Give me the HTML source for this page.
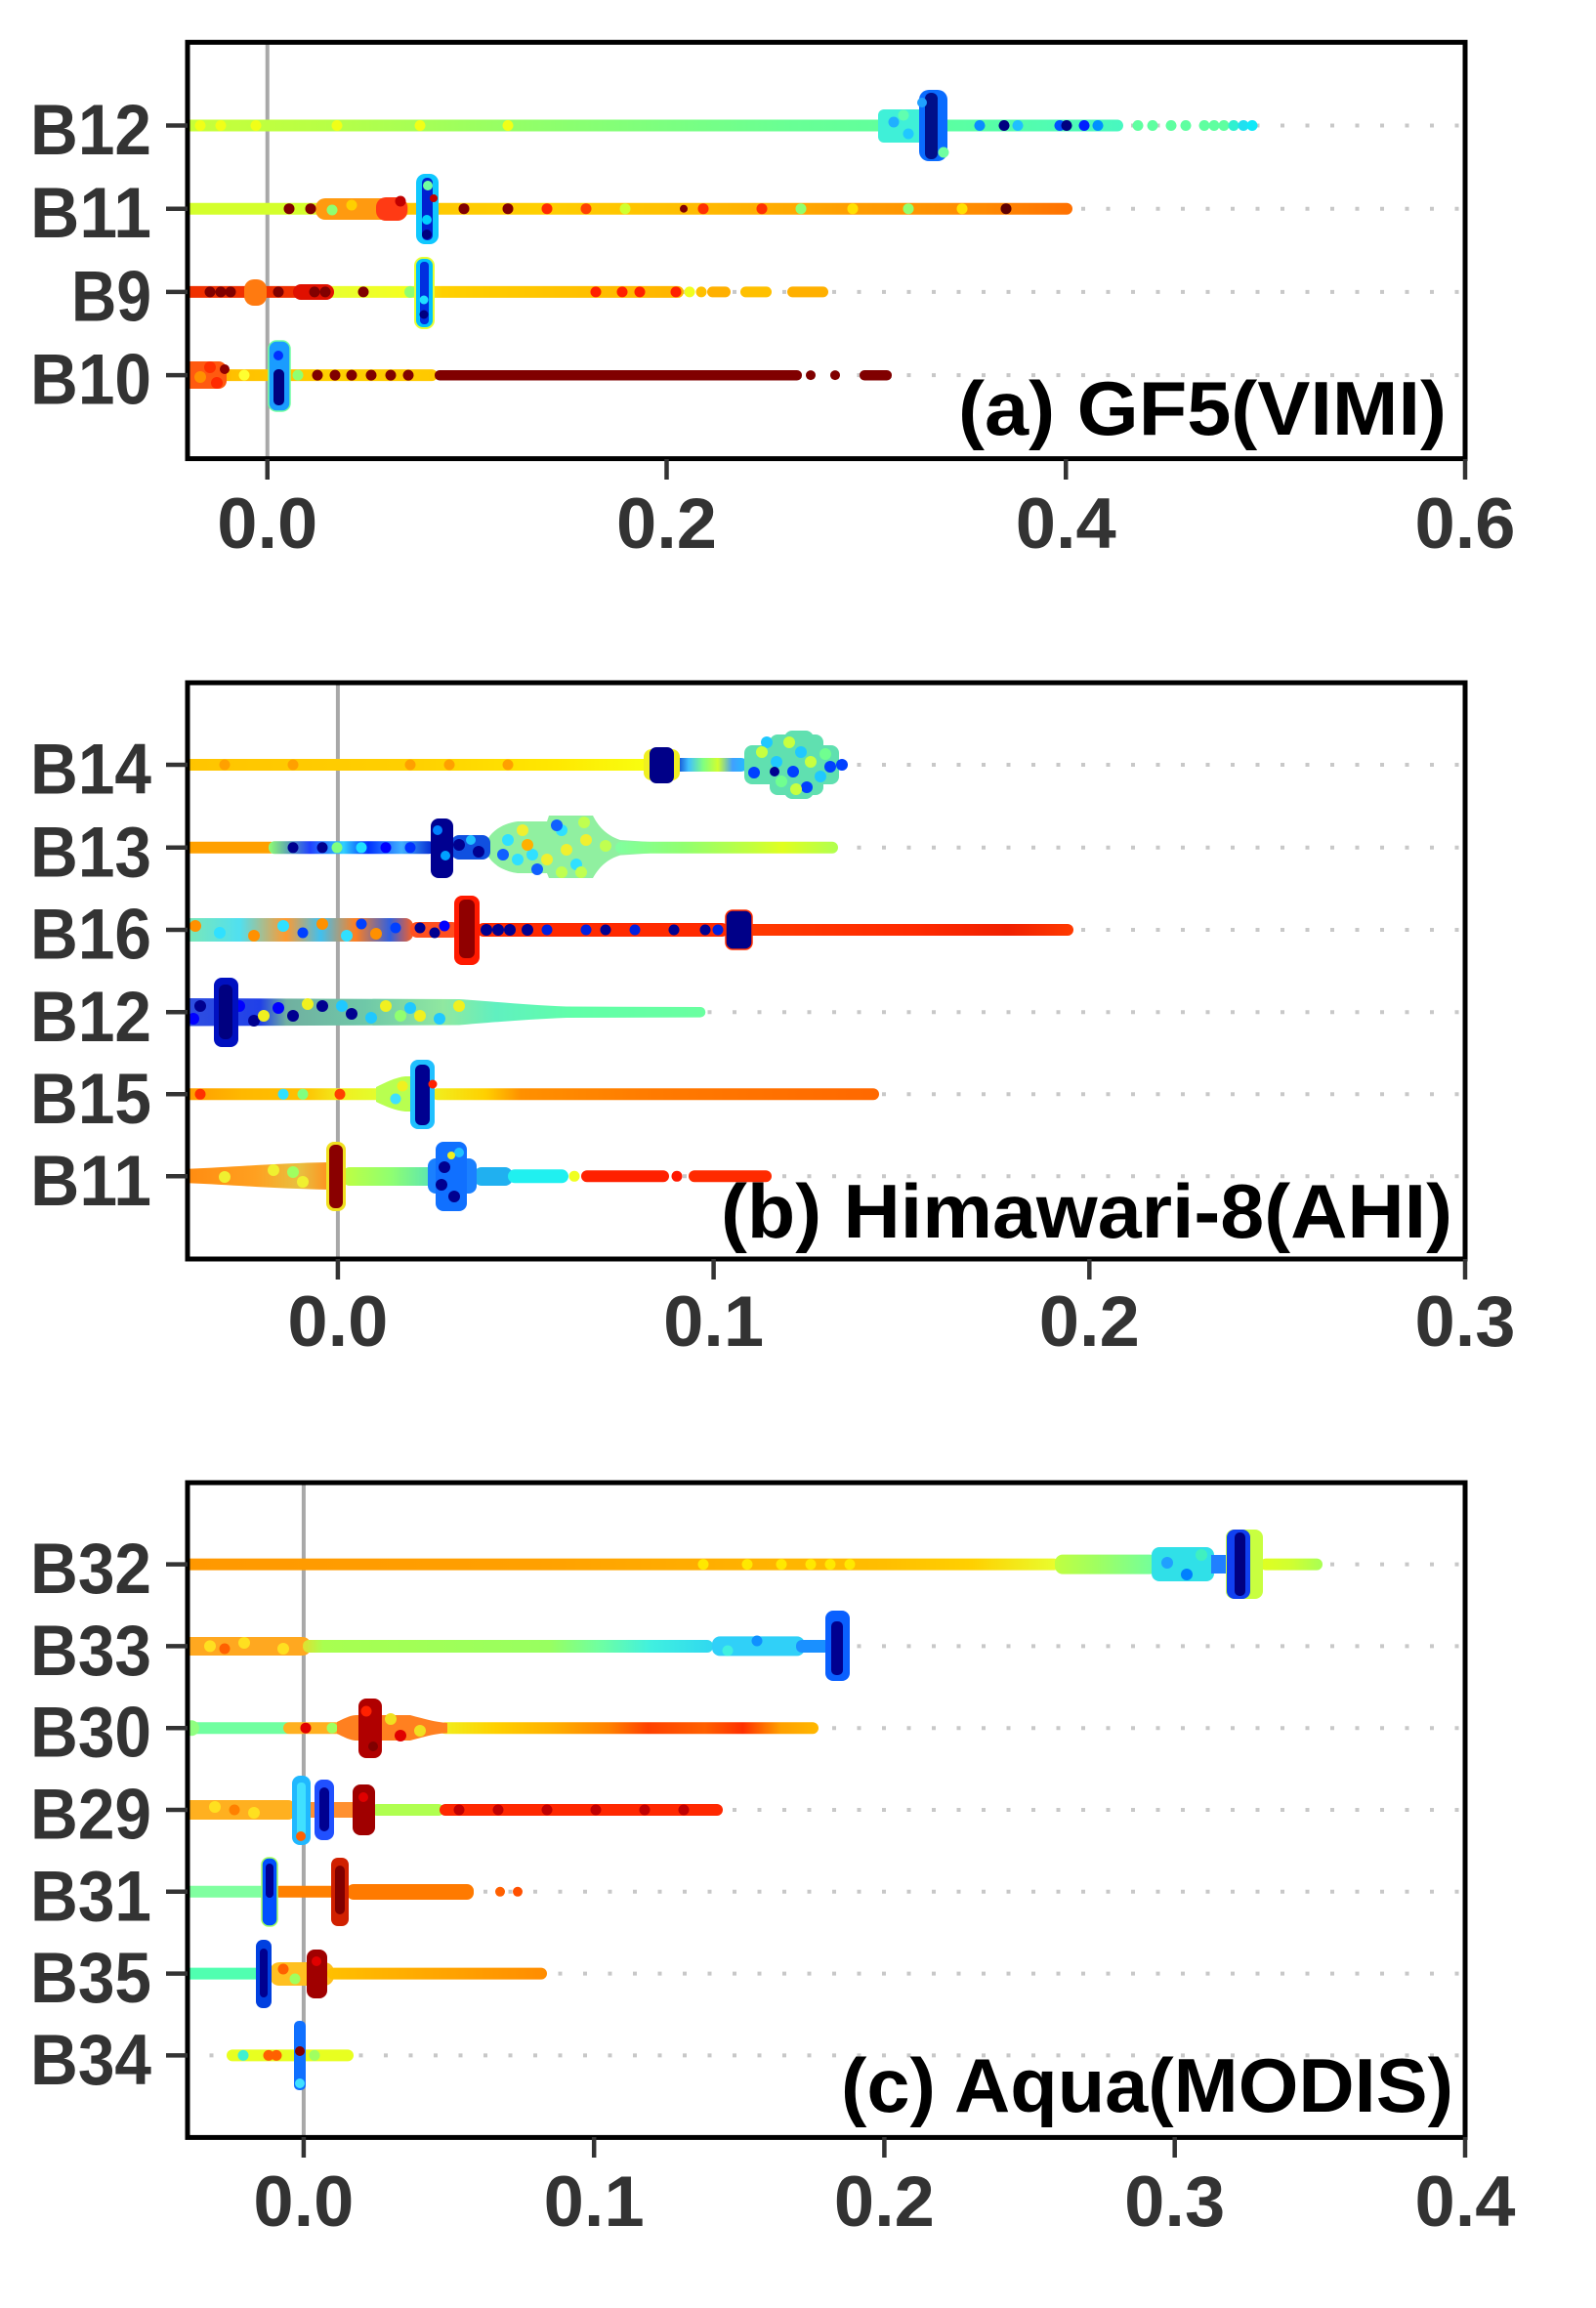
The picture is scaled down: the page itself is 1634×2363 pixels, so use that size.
<!DOCTYPE html>
<html><head><meta charset="utf-8">
<style>
html,body{margin:0;padding:0;background:#fff;}
svg{display:block;}
text{font-family:"Liberation Sans",Arial,sans-serif;font-weight:bold;}
</style></head>
<body>
<svg width="1634" height="2363" viewBox="0 0 1634 2363" xmlns="http://www.w3.org/2000/svg">
<defs>
<clipPath id="cA"><rect x="192" y="43" width="1308" height="427"/></clipPath>
<clipPath id="cB"><rect x="192" y="699" width="1308" height="590"/></clipPath>
<clipPath id="cC"><rect x="192" y="1518" width="1308" height="670"/></clipPath>
<linearGradient id="gA12"><stop offset="0" stop-color="#c8ff38"/><stop offset="0.15" stop-color="#b8ff45"/><stop offset="0.4" stop-color="#8cff6e"/><stop offset="0.65" stop-color="#68ff95"/><stop offset="0.85" stop-color="#58ffa5"/><stop offset="1" stop-color="#48f8c0"/></linearGradient>
<linearGradient id="gA11"><stop offset="0" stop-color="#d4ff2c"/><stop offset="0.14" stop-color="#d4ff2c"/><stop offset="0.2" stop-color="#ffc400"/><stop offset="0.4" stop-color="#ffd000"/><stop offset="0.55" stop-color="#ffc000"/><stop offset="0.75" stop-color="#ff9e00"/><stop offset="0.9" stop-color="#ff8a00"/><stop offset="1" stop-color="#ff7000"/></linearGradient>
<linearGradient id="gA9"><stop offset="0" stop-color="#f03000"/><stop offset="0.27" stop-color="#f03000"/><stop offset="0.3" stop-color="#e8ff30"/><stop offset="0.45" stop-color="#f4ff20"/><stop offset="0.52" stop-color="#ffd000"/><stop offset="0.8" stop-color="#ffc000"/><stop offset="1" stop-color="#ffb400"/></linearGradient>
<linearGradient id="gA10"><stop offset="0" stop-color="#ff8000"/><stop offset="0.2" stop-color="#ffc000"/><stop offset="0.6" stop-color="#ffd000"/><stop offset="1" stop-color="#ffc800"/></linearGradient>
<linearGradient id="gB14"><stop offset="0" stop-color="#ffc400"/><stop offset="0.5" stop-color="#ffd000"/><stop offset="0.8" stop-color="#ffe800"/><stop offset="1" stop-color="#f8ff10"/></linearGradient>
<linearGradient id="gB14b"><stop offset="0" stop-color="#0020c0"/><stop offset="0.2" stop-color="#40c0ff"/><stop offset="0.4" stop-color="#80ff80"/><stop offset="0.6" stop-color="#d0ff30"/><stop offset="0.8" stop-color="#40a0ff"/><stop offset="1" stop-color="#20c0ff"/></linearGradient>
<linearGradient id="gB13a"><stop offset="0" stop-color="#90ff70"/><stop offset="0.25" stop-color="#2040ff"/><stop offset="0.45" stop-color="#30d0ff"/><stop offset="0.6" stop-color="#0030ff"/><stop offset="0.8" stop-color="#40b0ff"/><stop offset="1" stop-color="#0020d0"/></linearGradient>
<linearGradient id="gB13b"><stop offset="0" stop-color="#80ffa0"/><stop offset="0.3" stop-color="#90ff70"/><stop offset="0.6" stop-color="#c0ff40"/><stop offset="0.75" stop-color="#e0ff20"/><stop offset="1" stop-color="#b0ff50"/></linearGradient>
<linearGradient id="gB16a"><stop offset="0" stop-color="#80e8b0"/><stop offset="0.25" stop-color="#50e0f0"/><stop offset="0.45" stop-color="#ff9a30"/><stop offset="0.6" stop-color="#40c0f0"/><stop offset="0.75" stop-color="#ff8020"/><stop offset="0.9" stop-color="#3060e0"/><stop offset="1" stop-color="#ff6020"/></linearGradient>
<linearGradient id="gB16b"><stop offset="0" stop-color="#ff3a00"/><stop offset="0.5" stop-color="#ff2a00"/><stop offset="0.8" stop-color="#f02000"/><stop offset="1" stop-color="#ff3a00"/></linearGradient>
<linearGradient id="gB12"><stop offset="0" stop-color="#3050e0"/><stop offset="0.15" stop-color="#2040e8"/><stop offset="0.2" stop-color="#70b0a0"/><stop offset="0.35" stop-color="#6fc8a8"/><stop offset="0.5" stop-color="#90e8a0"/><stop offset="0.6" stop-color="#60f0c0"/><stop offset="0.75" stop-color="#60ffa8"/><stop offset="1" stop-color="#6affa0"/></linearGradient>
<linearGradient id="gB15a"><stop offset="0" stop-color="#ff9a00"/><stop offset="0.3" stop-color="#ffb800"/><stop offset="0.6" stop-color="#ffc000"/><stop offset="0.8" stop-color="#f0f020"/><stop offset="1" stop-color="#e0ff30"/></linearGradient>
<linearGradient id="gB15b"><stop offset="0" stop-color="#f0f020"/><stop offset="0.12" stop-color="#ffd000"/><stop offset="0.2" stop-color="#ff9000"/><stop offset="0.5" stop-color="#ff7a00"/><stop offset="1" stop-color="#ff6800"/></linearGradient>
<linearGradient id="gB11a"><stop offset="0" stop-color="#ff8a10"/><stop offset="0.5" stop-color="#ffa020"/><stop offset="0.8" stop-color="#e8c040"/><stop offset="1" stop-color="#ff9020"/></linearGradient>
<linearGradient id="gB11b"><stop offset="0" stop-color="#c0ff40"/><stop offset="0.5" stop-color="#90ff70"/><stop offset="1" stop-color="#50e0c0"/></linearGradient>
<linearGradient id="gC32a"><stop offset="0" stop-color="#ff9800"/><stop offset="0.4" stop-color="#ffa000"/><stop offset="0.6" stop-color="#ffae00"/><stop offset="0.8" stop-color="#ffbe00"/><stop offset="0.9" stop-color="#ffd000"/><stop offset="1" stop-color="#e8ff30"/></linearGradient>
<linearGradient id="gC32b"><stop offset="0" stop-color="#c0ff40"/><stop offset="0.4" stop-color="#a0ff60"/><stop offset="1" stop-color="#70ffa0"/></linearGradient>
<linearGradient id="gC32c"><stop offset="0" stop-color="#e0ff20"/><stop offset="0.5" stop-color="#d0ff30"/><stop offset="1" stop-color="#a8ff55"/></linearGradient>
<linearGradient id="gC33a"><stop offset="0" stop-color="#e0e030"/><stop offset="0.05" stop-color="#a8ff50"/><stop offset="0.6" stop-color="#98ff60"/><stop offset="0.72" stop-color="#70ffa0"/><stop offset="0.85" stop-color="#40f0e0"/><stop offset="1" stop-color="#30d8f0"/></linearGradient>
<linearGradient id="gC30"><stop offset="0" stop-color="#f0f020"/><stop offset="0.15" stop-color="#ffd000"/><stop offset="0.3" stop-color="#ffb000"/><stop offset="0.45" stop-color="#ff8000"/><stop offset="0.55" stop-color="#ff4000"/><stop offset="0.7" stop-color="#ff6000"/><stop offset="0.8" stop-color="#ff3000"/><stop offset="0.9" stop-color="#ffa000"/><stop offset="1" stop-color="#ffb800"/></linearGradient>
<linearGradient id="gC35"><stop offset="0" stop-color="#ffc000"/><stop offset="0.3" stop-color="#ffb000"/><stop offset="1" stop-color="#ff8c00"/></linearGradient>
</defs>
<rect width="1634" height="2363" fill="#fff"/>

<!-- ================= PANEL A ================= -->
<g stroke="#c8c8c8" stroke-width="4" stroke-dasharray="4 21.5">
<line x1="189" x2="1497" y1="128.5" y2="128.5"/>
<line x1="189" x2="1497" y1="213.7" y2="213.7"/>
<line x1="189" x2="1497" y1="298.9" y2="298.9"/>
<line x1="189" x2="1497" y1="384.1" y2="384.1"/>
</g>
<line x1="273.75" x2="273.75" y1="43" y2="470" stroke="#a8a8a8" stroke-width="4"/>
<g clip-path="url(#cA)">
<!-- B12 -->
<rect x="186" y="122.5" width="964" height="12" rx="6" fill="url(#gA12)"/>
<g fill="#f0ff18"><circle cx="205" cy="128.5" r="5.5"/><circle cx="226" cy="128.5" r="5.5"/><circle cx="262" cy="128.5" r="5.5"/><circle cx="345" cy="128.5" r="5.5"/><circle cx="430" cy="128.5" r="5.5"/><circle cx="520" cy="128.5" r="5.5"/></g>
<rect x="899" y="112" width="48" height="34" rx="6" fill="#3ff0d8"/>
<circle cx="915" cy="125" r="5.5" fill="#20b0ff"/><circle cx="930" cy="137" r="5.5" fill="#20c8ff"/><circle cx="925" cy="118" r="5.5" fill="#60ffb0"/>
<rect x="941" y="92" width="29" height="73" rx="10" fill="#0a6cff"/>
<rect x="947" y="95" width="13" height="68" rx="6" fill="#00108a"/>
<circle cx="966" cy="156" r="5.5" fill="#70ffa0"/><circle cx="944" cy="105" r="5" fill="#20a0ff"/>
<g><circle cx="1003" cy="128.5" r="5.5" fill="#0a8cff"/><circle cx="1028" cy="128.5" r="5.5" fill="#000080"/><circle cx="1042" cy="128.5" r="5.5" fill="#20c0ff"/><circle cx="1085" cy="128.5" r="5.5" fill="#0050ff"/><circle cx="1092" cy="128.5" r="5.5" fill="#000080"/><circle cx="1110" cy="128.5" r="5.5" fill="#0020ff"/><circle cx="1124" cy="128.5" r="5.5" fill="#0090ff"/></g>
<g fill="#5fffa0"><circle cx="1165" cy="128.5" r="5.5"/><circle cx="1180" cy="128.5" r="5.5"/><circle cx="1199" cy="128.5" r="5.5"/><circle cx="1214" cy="128.5" r="5.5"/><circle cx="1233" cy="128.5" r="5.5"/><circle cx="1243" cy="128.5" r="5.5"/><circle cx="1253" cy="128.5" r="5.5"/></g>
<circle cx="1263" cy="128.5" r="5.5" fill="#30f0d0"/><circle cx="1273" cy="128.5" r="5.5" fill="#20e0f0"/><circle cx="1282" cy="128.5" r="5.5" fill="#10e8f8"/>
<!-- B11 -->
<rect x="186" y="207.7" width="912" height="12" rx="6" fill="url(#gA11)"/>
<rect x="323" y="203" width="95" height="22" rx="10" fill="#ff9a10"/>
<rect x="385" y="202" width="32" height="24" rx="10" fill="#ff3a14"/>
<circle cx="296" cy="213.7" r="5.5" fill="#800000"/><circle cx="318" cy="213.7" r="5.5" fill="#800000"/><circle cx="410" cy="206" r="5.5" fill="#c00000"/><circle cx="340" cy="215" r="5.5" fill="#90ff70"/><circle cx="360" cy="210" r="5.5" fill="#ffd000"/>
<rect x="426" y="178" width="23" height="72" rx="9" fill="#10c8ff"/>
<rect x="432" y="182" width="11" height="64" rx="5" fill="#0020d0"/>
<circle cx="438" cy="190" r="5" fill="#70ffa0"/><circle cx="437" cy="240" r="5" fill="#000080"/><circle cx="437" cy="225" r="5" fill="#00d0ff"/><circle cx="444" cy="203" r="4" fill="#c00000"/>
<circle cx="475" cy="213.7" r="5.5" fill="#800000"/><circle cx="520" cy="213.7" r="5.5" fill="#800000"/><circle cx="560" cy="213.7" r="5.5" fill="#ff2a00"/><circle cx="600" cy="213.7" r="5.5" fill="#ff4000"/><circle cx="640" cy="213.7" r="5.5" fill="#d0ff30"/><circle cx="700" cy="213.7" r="4" fill="#800000"/><circle cx="720" cy="213.7" r="5.5" fill="#ff3000"/><circle cx="780" cy="213.7" r="5.5" fill="#ff3000"/><circle cx="820" cy="213.7" r="5.5" fill="#90ff70"/><circle cx="873" cy="213.7" r="5.5" fill="#ffe000"/><circle cx="930" cy="213.7" r="5.5" fill="#90ff70"/><circle cx="985" cy="213.7" r="5.5" fill="#ffe000"/><circle cx="1030" cy="213.7" r="5.5" fill="#600000"/>
<!-- B9 -->
<rect x="186" y="292.9" width="514" height="12" rx="6" fill="url(#gA9)"/>
<rect x="250" y="286" width="23" height="27" rx="10" fill="#ff7a10"/>
<rect x="300" y="291" width="42" height="16" rx="8" fill="#e01000"/>
<g fill="#800000"><circle cx="215" cy="298.9" r="5.5"/><circle cx="226" cy="298.9" r="5.5"/><circle cx="236" cy="298.9" r="5.5"/><circle cx="285" cy="298.9" r="5.5"/><circle cx="322" cy="298.9" r="5.5"/><circle cx="333" cy="298.9" r="5.5"/><circle cx="372" cy="298.9" r="5.5"/></g>
<circle cx="420" cy="298.9" r="6" fill="#90ff70"/>
<rect x="425" y="264" width="19" height="72" rx="8" fill="#00c0ff" stroke="#e8ff30" stroke-width="2"/>
<rect x="430" y="268" width="9" height="64" rx="4" fill="#0030e0"/>
<circle cx="434" cy="322" r="4.5" fill="#000080"/><circle cx="434" cy="307" r="4.5" fill="#20e0ff"/>
<g fill="#ff2000"><circle cx="610" cy="298.9" r="5.5"/><circle cx="637" cy="298.9" r="5.5"/><circle cx="655" cy="298.9" r="5.5"/><circle cx="692" cy="298.9" r="5.5"/></g>
<circle cx="706" cy="298.9" r="5.5" fill="#f0ff20"/><circle cx="718" cy="298.9" r="5.5" fill="#ffc000"/>
<rect x="724" y="293.4" width="24" height="11" rx="5.5" fill="#ffb000"/>
<rect x="758" y="293.4" width="32" height="11" rx="5.5" fill="#ffc000"/>
<rect x="806" y="293.4" width="42" height="11" rx="5.5" fill="#ffb000"/>
<!-- B10 -->
<rect x="186" y="378.1" width="262" height="12" rx="6" fill="url(#gA10)"/>
<rect x="186" y="370" width="46" height="28" rx="8" fill="#ff5a10"/>
<circle cx="215" cy="376" r="6" fill="#ff3000"/><circle cx="222" cy="392" r="6" fill="#ff2a00"/><circle cx="230" cy="378" r="5" fill="#900000"/><circle cx="205" cy="386" r="6" fill="#ff9000"/>
<circle cx="250" cy="384.1" r="5.5" fill="#ffff30"/><circle cx="305" cy="384.1" r="5.5" fill="#90ff70"/>
<g fill="#800000"><circle cx="325" cy="384.1" r="5.5"/><circle cx="343" cy="384.1" r="5.5"/><circle cx="360" cy="384.1" r="5.5"/><circle cx="380" cy="384.1" r="5.5"/><circle cx="400" cy="384.1" r="5.5"/><circle cx="418" cy="384.1" r="5.5"/></g>
<rect x="445" y="379" width="376" height="10.5" rx="5" fill="#800000"/>
<circle cx="830" cy="384.1" r="5" fill="#800000"/><circle cx="855" cy="384.1" r="5" fill="#800000"/>
<rect x="880" y="379" width="33" height="10.5" rx="5" fill="#800000"/>
<rect x="275" y="349" width="22" height="72" rx="8" fill="#1a9cff" stroke="#70ffa0" stroke-width="1.5"/>
<rect x="280" y="378" width="11" height="37" rx="5" fill="#000080"/>
<circle cx="285" cy="364" r="5" fill="#0030ff"/>
</g>
<rect x="192" y="43.3" width="1308" height="426.3" fill="none" stroke="#000" stroke-width="5"/>
<g stroke="#333" stroke-width="4.5">
<line x1="170" x2="192" y1="128.5" y2="128.5"/><line x1="170" x2="192" y1="213.7" y2="213.7"/><line x1="170" x2="192" y1="298.9" y2="298.9"/><line x1="170" x2="192" y1="384.1" y2="384.1"/>
<line x1="273.75" x2="273.75" y1="470" y2="491"/><line x1="682.5" x2="682.5" y1="470" y2="491"/><line x1="1091.25" x2="1091.25" y1="470" y2="491"/><line x1="1500" x2="1500" y1="470" y2="491"/>
</g>
<g fill="#333" font-size="73" text-anchor="end">
<text x="155" y="158" textLength="124" lengthAdjust="spacingAndGlyphs">B12</text>
<text x="155" y="243.2" textLength="124" lengthAdjust="spacingAndGlyphs">B11</text>
<text x="155" y="328.4" textLength="82" lengthAdjust="spacingAndGlyphs">B9</text>
<text x="155" y="413.6" textLength="124" lengthAdjust="spacingAndGlyphs">B10</text>
</g>
<g fill="#333" font-size="73" text-anchor="middle">
<text x="273.75" y="561" textLength="103" lengthAdjust="spacingAndGlyphs">0.0</text>
<text x="682.5" y="561" textLength="103" lengthAdjust="spacingAndGlyphs">0.2</text>
<text x="1091.25" y="561" textLength="103" lengthAdjust="spacingAndGlyphs">0.4</text>
<text x="1500" y="561" textLength="103" lengthAdjust="spacingAndGlyphs">0.6</text>
</g>
<text x="1481" y="445" font-size="78" fill="#000" text-anchor="end" textLength="500" lengthAdjust="spacingAndGlyphs">(a) GF5(VIMI)</text>

<!-- ================= PANEL B ================= -->
<g stroke="#c8c8c8" stroke-width="4" stroke-dasharray="4 21.5">
<line x1="189" x2="1497" y1="783" y2="783"/>
<line x1="189" x2="1497" y1="867.8" y2="867.8"/>
<line x1="189" x2="1497" y1="952" y2="952"/>
<line x1="189" x2="1497" y1="1036.3" y2="1036.3"/>
<line x1="189" x2="1497" y1="1120.3" y2="1120.3"/>
<line x1="189" x2="1497" y1="1204.3" y2="1204.3"/>
</g>
<line x1="345.9" x2="345.9" y1="699" y2="1289" stroke="#a8a8a8" stroke-width="4"/>
<g clip-path="url(#cB)">
<!-- B14 -->
<rect x="186" y="777" width="479" height="12" rx="6" fill="url(#gB14)"/>
<g fill="#ffa000"><circle cx="230" cy="783" r="5.5"/><circle cx="300" cy="783" r="5.5"/><circle cx="420" cy="783" r="5.5"/><circle cx="460" cy="783" r="5.5"/><circle cx="520" cy="783" r="5.5"/></g>
<rect x="690" y="776" width="75" height="14" rx="6" fill="url(#gB14b)"/>
<rect x="659" y="767" width="37" height="32" rx="8" fill="#f0f020"/>
<rect x="665" y="765" width="25" height="37" rx="7" fill="#000088"/>
<rect x="762" y="763" width="97" height="40" rx="8" fill="#60e0b0"/>
<rect x="788" y="752" width="55" height="62" rx="8" fill="#60e0b0"/>
<rect x="803" y="748" width="30" height="70" rx="8" fill="#60e0b0"/>
<g fill="#0040ff"><circle cx="772" cy="791" r="6"/><circle cx="812" cy="790" r="6"/><circle cx="826" cy="806" r="6"/><circle cx="850" cy="785" r="6"/><circle cx="862" cy="783" r="6"/></g>
<g fill="#20c8ff"><circle cx="795" cy="780" r="6"/><circle cx="820" cy="770" r="6"/><circle cx="840" cy="795" r="6"/><circle cx="785" cy="760" r="6"/></g>
<g fill="#c8ff40"><circle cx="780" cy="770" r="6"/><circle cx="808" cy="760" r="6"/><circle cx="830" cy="780" r="6"/><circle cx="815" cy="808" r="6"/></g>
<g fill="#70ff90"><circle cx="800" cy="800" r="6"/><circle cx="845" cy="772" r="6"/></g>
<circle cx="793" cy="790" r="5" fill="#000090"/>
<!-- B13 -->
<rect x="186" y="861.8" width="97" height="12" rx="6" fill="#ffa000"/>
<rect x="275" y="861.3" width="170" height="13" rx="6" fill="url(#gB13a)"/>
<circle cx="300" cy="867.8" r="5.5" fill="#000090"/><circle cx="330" cy="867.8" r="5.5" fill="#000090"/><circle cx="345" cy="867.8" r="5.5" fill="#80ff80"/><circle cx="370" cy="867.8" r="5.5" fill="#20e0ff"/><circle cx="395" cy="867.8" r="5.5" fill="#0000ff"/><circle cx="420" cy="867.8" r="5.5" fill="#0030ff"/>
<path d="M500 858 C505 850 515 843 530 841 L560 841 L562 835 L607 835 C612 845 620 855 635 860 L665 862 L665 873.6 L635 875.6 C620 880 612 890 607 899 L562 899 L560 894 L530 894 C515 892 505 885 500 877 Z" fill="#90f0a0"/>
<g fill="#30e0ff"><circle cx="520" cy="860" r="6"/><circle cx="545" cy="875" r="6"/><circle cx="575" cy="850" r="6"/><circle cx="590" cy="885" r="6"/><circle cx="530" cy="880" r="6"/></g>
<g fill="#f0f030"><circle cx="535" cy="850" r="6"/><circle cx="560" cy="880" r="6"/><circle cx="600" cy="860" r="6"/><circle cx="580" cy="870" r="6"/></g>
<g fill="#1060ff"><circle cx="515" cy="875" r="6"/><circle cx="550" cy="890" r="6"/><circle cx="570" cy="845" r="6"/></g>
<circle cx="540" cy="865" r="6" fill="#ffb000"/>
<g fill="#c0ff50"><circle cx="620" cy="866" r="6"/><circle cx="595" cy="893" r="6"/><circle cx="575" cy="893" r="6"/><circle cx="598" cy="842" r="6"/></g>
<rect x="630" y="861.8" width="228" height="12" rx="6" fill="url(#gB13b)"/>
<rect x="462" y="855" width="40" height="25" rx="8" fill="#1050e0"/>
<circle cx="470" cy="865" r="6" fill="#000090"/><circle cx="490" cy="872" r="6" fill="#000090"/><circle cx="482" cy="860" r="5" fill="#20c0ff"/>
<rect x="441" y="838" width="23" height="61" rx="8" fill="#000090"/>
<circle cx="448" cy="850" r="5" fill="#0080ff"/><circle cx="456" cy="876" r="5" fill="#00a0ff"/>
<!-- B16 -->
<rect x="186" y="940" width="237" height="24" rx="8" fill="url(#gB16a)"/>
<g fill="#ff9000"><circle cx="200" cy="948" r="6"/><circle cx="260" cy="958" r="6"/><circle cx="330" cy="946" r="6"/><circle cx="385" cy="956" r="6"/></g>
<g fill="#30e0ff"><circle cx="225" cy="955" r="6"/><circle cx="290" cy="948" r="6"/><circle cx="355" cy="958" r="6"/></g>
<g fill="#0040ff"><circle cx="310" cy="955" r="5.5"/><circle cx="370" cy="946" r="5.5"/><circle cx="405" cy="950" r="5.5"/></g>
<rect x="420" y="944" width="50" height="16" rx="7" fill="#ff5020"/>
<circle cx="430" cy="950" r="5.5" fill="#000090"/><circle cx="445" cy="955" r="5.5" fill="#000090"/><circle cx="455" cy="948" r="5.5" fill="#0000ff"/>
<rect x="488" y="945" width="258" height="14" rx="7" fill="#ff2a00"/>
<g fill="#000090"><circle cx="498" cy="952" r="6"/><circle cx="510" cy="952" r="6"/><circle cx="522" cy="952" r="6"/><circle cx="540" cy="952" r="6"/><circle cx="620" cy="952" r="5.5"/><circle cx="690" cy="952" r="5.5"/><circle cx="722" cy="952" r="5.5"/></g>
<g fill="#0020e0"><circle cx="560" cy="952" r="5.5"/><circle cx="600" cy="952" r="5.5"/><circle cx="650" cy="952" r="5.5"/><circle cx="735" cy="952" r="5.5"/></g>
<rect x="465" y="917" width="26" height="71" rx="8" fill="#ff1a00"/>
<rect x="470" y="921" width="16" height="60" rx="6" fill="#900000"/>
<rect x="765" y="946" width="334" height="12" rx="6" fill="url(#gB16b)"/>
<rect x="743" y="932" width="27" height="40" rx="7" fill="#000088" stroke="#ff3000" stroke-width="1.5"/>
<!-- B12 -->
<path d="M186 1022 L470 1023 C500 1025 540 1029 580 1030.5 L717 1031 A5.3 5.3 0 0 1 717 1041.6 L580 1042 C540 1043.5 500 1047 470 1049.5 L186 1050.5 Z" fill="url(#gB12)"/>
<g fill="#000090"><circle cx="205" cy="1030" r="6"/><circle cx="260" cy="1045" r="6"/><circle cx="300" cy="1040" r="6"/><circle cx="330" cy="1030" r="6"/><circle cx="360" cy="1038" r="6"/></g>
<g fill="#0000ff"><circle cx="245" cy="1030" r="6"/><circle cx="285" cy="1032" r="6"/><circle cx="198" cy="1043" r="6"/></g>
<g fill="#f0f020"><circle cx="270" cy="1040" r="6"/><circle cx="315" cy="1028" r="6"/><circle cx="395" cy="1030" r="6"/><circle cx="430" cy="1040" r="6"/><circle cx="470" cy="1030" r="6"/></g>
<g fill="#20c8ff"><circle cx="350" cy="1030" r="6"/><circle cx="380" cy="1042" r="6"/><circle cx="420" cy="1032" r="6"/><circle cx="450" cy="1043" r="6"/></g>
<circle cx="410" cy="1040" r="6" fill="#90ff70"/>
<rect x="219" y="1001" width="25" height="71" rx="8" fill="#0010c0"/>
<rect x="224" y="1008" width="14" height="56" rx="6" fill="#000080"/>
<!-- B15 -->
<rect x="186" y="1114.3" width="207" height="12" rx="6" fill="url(#gB15a)"/>
<circle cx="205" cy="1120.3" r="5.5" fill="#ff3000"/><circle cx="290" cy="1120.3" r="5.5" fill="#30e0ff"/><circle cx="310" cy="1120.3" r="5.5" fill="#80ff80"/><circle cx="348" cy="1120.3" r="5.5" fill="#ff4000"/>
<path d="M385 1113 C395 1108 405 1103 415 1102 L425 1102 L425 1138 L415 1138 C405 1137 395 1133 385 1128 Z" fill="#b8ff50"/>
<circle cx="405" cy="1125" r="5.5" fill="#40e0ff"/><circle cx="412" cy="1112" r="5.5" fill="#f0f020"/>
<rect x="442" y="1114.3" width="458" height="12" rx="6" fill="url(#gB15b)"/>
<rect x="420" y="1085" width="25" height="71" rx="8" fill="#20c0ff"/>
<rect x="425" y="1090" width="15" height="62" rx="6" fill="#000090"/>
<circle cx="443" cy="1110" r="4.5" fill="#ff2000"/>
<!-- B11 -->
<path d="M186 1197 C240 1195 280 1191 337 1190 L337 1218 C280 1217 240 1213 186 1211 Z" fill="url(#gB11a)"/>
<g fill="#f0f030"><circle cx="230" cy="1205" r="6"/><circle cx="280" cy="1198" r="6"/><circle cx="310" cy="1210" r="6"/></g>
<circle cx="300" cy="1200" r="6" fill="#a0ff60"/>
<rect x="350" y="1195" width="100" height="19" rx="8" fill="url(#gB11b)"/>
<rect x="334" y="1169" width="20" height="71" rx="8" fill="#f0e020"/>
<rect x="337" y="1172" width="14" height="65" rx="6" fill="#8a0000"/>
<rect x="485" y="1195" width="40" height="19" rx="8" fill="#20b0f0"/>
<rect x="520" y="1197.3" width="62" height="14" rx="7" fill="#20f0f0"/>
<circle cx="588" cy="1204.3" r="5.5" fill="#f0ff20"/>
<rect x="595" y="1198.3" width="90" height="12" rx="6" fill="#ff2000"/>
<circle cx="693" cy="1204.3" r="5.5" fill="#ff1800"/>
<rect x="705" y="1198.3" width="85" height="12" rx="6" fill="#ff2a00"/>
<rect x="438" y="1186" width="50" height="36" rx="8" fill="#1a80ff"/>
<rect x="446" y="1169" width="32" height="71" rx="8" fill="#1070ff"/>
<circle cx="455" cy="1195" r="6" fill="#000090"/><circle cx="465" cy="1225" r="6" fill="#000090"/><circle cx="452" cy="1213" r="6" fill="#000090"/><circle cx="470" cy="1180" r="5" fill="#20c0ff"/><circle cx="462" cy="1183" r="4" fill="#f0f020"/>
</g>
<rect x="192" y="699" width="1308" height="590" fill="none" stroke="#000" stroke-width="5"/>
<g stroke="#333" stroke-width="4.5">
<line x1="170" x2="192" y1="783" y2="783"/><line x1="170" x2="192" y1="867.8" y2="867.8"/><line x1="170" x2="192" y1="952" y2="952"/><line x1="170" x2="192" y1="1036.3" y2="1036.3"/><line x1="170" x2="192" y1="1120.3" y2="1120.3"/><line x1="170" x2="192" y1="1204.3" y2="1204.3"/>
<line x1="345.9" x2="345.9" y1="1289" y2="1310"/><line x1="730.6" x2="730.6" y1="1289" y2="1310"/><line x1="1115.3" x2="1115.3" y1="1289" y2="1310"/><line x1="1500" x2="1500" y1="1289" y2="1310"/>
</g>
<g fill="#333" font-size="73" text-anchor="end">
<text x="155" y="812.5" textLength="124" lengthAdjust="spacingAndGlyphs">B14</text>
<text x="155" y="897.3" textLength="124" lengthAdjust="spacingAndGlyphs">B13</text>
<text x="155" y="981.5" textLength="124" lengthAdjust="spacingAndGlyphs">B16</text>
<text x="155" y="1065.8" textLength="124" lengthAdjust="spacingAndGlyphs">B12</text>
<text x="155" y="1149.8" textLength="124" lengthAdjust="spacingAndGlyphs">B15</text>
<text x="155" y="1233.8" textLength="124" lengthAdjust="spacingAndGlyphs">B11</text>
</g>
<g fill="#333" font-size="73" text-anchor="middle">
<text x="345.9" y="1378" textLength="103" lengthAdjust="spacingAndGlyphs">0.0</text>
<text x="730.6" y="1378" textLength="103" lengthAdjust="spacingAndGlyphs">0.1</text>
<text x="1115.3" y="1378" textLength="103" lengthAdjust="spacingAndGlyphs">0.2</text>
<text x="1500" y="1378" textLength="103" lengthAdjust="spacingAndGlyphs">0.3</text>
</g>
<text x="1487" y="1267" font-size="78" fill="#000" text-anchor="end" textLength="749" lengthAdjust="spacingAndGlyphs">(b) Himawari-8(AHI)</text>

<!-- ================= PANEL C ================= -->
<g stroke="#c8c8c8" stroke-width="4" stroke-dasharray="4 21.5">
<line x1="189" x2="1497" y1="1601.6" y2="1601.6"/>
<line x1="189" x2="1497" y1="1685.4" y2="1685.4"/>
<line x1="189" x2="1497" y1="1769.2" y2="1769.2"/>
<line x1="189" x2="1497" y1="1853" y2="1853"/>
<line x1="189" x2="1497" y1="1936.8" y2="1936.8"/>
<line x1="189" x2="1497" y1="2020.6" y2="2020.6"/>
<line x1="189" x2="1497" y1="2104.4" y2="2104.4"/>
</g>
<line x1="310.9" x2="310.9" y1="1518" y2="2188" stroke="#a8a8a8" stroke-width="4"/>
<g clip-path="url(#cC)">
<!-- B32 -->
<rect x="186" y="1595.6" width="899" height="12" rx="6" fill="url(#gC32a)"/>
<g fill="#ffe800"><circle cx="720" cy="1601.6" r="5.5"/><circle cx="765" cy="1601.6" r="5.5"/><circle cx="800" cy="1601.6" r="5.5"/><circle cx="830" cy="1601.6" r="5.5"/><circle cx="850" cy="1601.6" r="5.5"/><circle cx="870" cy="1601.6" r="5.5"/></g>
<rect x="1080" y="1591.6" width="105" height="20" rx="8" fill="url(#gC32b)"/>
<rect x="1179" y="1584" width="64" height="35" rx="8" fill="#30e0e8"/>
<circle cx="1195" cy="1600" r="6" fill="#20a0ff"/><circle cx="1215" cy="1612" r="6" fill="#0080ff"/><circle cx="1230" cy="1592" r="6" fill="#40f0c0"/>
<rect x="1240" y="1592" width="20" height="19" fill="#2080ff"/>
<rect x="1290" y="1595.6" width="64" height="12" rx="6" fill="url(#gC32c)"/>
<rect x="1255" y="1566" width="38" height="71" rx="8" fill="#c8ff40"/>
<rect x="1256" y="1566" width="24" height="71" rx="8" fill="#1040f0"/>
<rect x="1264" y="1569" width="11" height="65" rx="5" fill="#000080"/>
<!-- B33 -->
<rect x="186" y="1676" width="132" height="19" rx="8" fill="#ffa820"/>
<circle cx="215" cy="1685.4" r="6" fill="#ffe020"/><circle cx="250" cy="1682" r="6" fill="#ffe020"/><circle cx="290" cy="1688" r="6" fill="#ffe020"/><circle cx="230" cy="1688" r="5.5" fill="#ff6000"/>
<rect x="310" y="1679" width="420" height="13" rx="6" fill="url(#gC33a)"/>
<rect x="729" y="1675.4" width="95" height="20" rx="8" fill="#30d0f8"/>
<circle cx="775" cy="1680" r="5.5" fill="#1090ff"/><circle cx="745" cy="1690" r="5.5" fill="#40f0e0"/>
<rect x="815" y="1679" width="35" height="13" rx="6" fill="#1a90ff"/>
<rect x="845" y="1649" width="25" height="72" rx="8" fill="#0a60ff"/>
<rect x="851" y="1660" width="12" height="55" rx="5" fill="#000090"/>
<!-- B30 -->
<rect x="186" y="1763.2" width="114" height="12" rx="6" fill="#70ffa0"/>
<circle cx="196" cy="1769.2" r="8" fill="#90ff80"/>
<rect x="290" y="1763.2" width="80" height="12" rx="6" fill="#ffb020"/>
<circle cx="313" cy="1769.2" r="5.5" fill="#e00000"/><circle cx="340" cy="1769.2" r="5.5" fill="#a0ff60"/>
<rect x="450" y="1763.2" width="388" height="12" rx="6" fill="url(#gC30)"/>
<path d="M345 1763 C355 1758 360 1756 365 1756 L420 1756 C435 1760 445 1763 458 1764 L458 1774.4 C445 1775 435 1778 420 1782 L365 1782 C360 1782 355 1780 345 1775 Z" fill="#ff8020"/>
<circle cx="400" cy="1760" r="6" fill="#f0e020"/><circle cx="430" cy="1772" r="6" fill="#f0e020"/><circle cx="410" cy="1777" r="6" fill="#e00000"/>
<rect x="367" y="1739" width="24" height="61" rx="8" fill="#b00000"/>
<circle cx="375" cy="1752" r="5.5" fill="#ff2000"/><circle cx="382" cy="1788" r="5" fill="#800000"/>
<!-- B29 -->
<rect x="186" y="1843" width="117" height="20" rx="8" fill="#ffb020"/>
<circle cx="220" cy="1850" r="6" fill="#ffe020"/><circle cx="260" cy="1856" r="6" fill="#ffe020"/><circle cx="240" cy="1853" r="5.5" fill="#ff8000"/>
<rect x="300" y="1845" width="85" height="16" rx="7" fill="#ff9030"/>
<rect x="380" y="1847" width="75" height="12" rx="6" fill="#b0ff50"/>
<rect x="450" y="1847" width="290" height="12" rx="6" fill="#ff2800"/>
<g fill="#c00000"><circle cx="470" cy="1853" r="5.5"/><circle cx="510" cy="1853" r="5.5"/><circle cx="560" cy="1853" r="5.5"/><circle cx="610" cy="1853" r="5.5"/><circle cx="660" cy="1853" r="5.5"/><circle cx="700" cy="1853" r="5.5"/></g>
<rect x="299" y="1818" width="19" height="71" rx="8" fill="#20b8ff"/>
<rect x="304" y="1825" width="9" height="55" rx="4" fill="#40e0ff"/>
<circle cx="308" cy="1880" r="5" fill="#ff6000"/>
<rect x="322" y="1822" width="20" height="62" rx="8" fill="#2050ff"/>
<rect x="327" y="1830" width="10" height="45" rx="5" fill="#000090"/>
<rect x="361" y="1827" width="23" height="52" rx="8" fill="#a00000"/>
<circle cx="372" cy="1840" r="5" fill="#e00000"/>
<!-- B31 -->
<rect x="186" y="1930.8" width="87" height="12" rx="6" fill="#80ffa0"/>
<rect x="280" y="1930.8" width="205" height="12" rx="6" fill="#ff8000"/>
<rect x="355" y="1929" width="130" height="16" rx="7" fill="#ff7a00"/>
<circle cx="512" cy="1936.8" r="5" fill="#ff6000"/><circle cx="530" cy="1936.8" r="5" fill="#ff5000"/>
<rect x="268" y="1902" width="16" height="70" rx="7" fill="#0050ff" stroke="#a0ff60" stroke-width="1.5"/>
<rect x="272" y="1908" width="8" height="35" rx="4" fill="#000090"/>
<rect x="339" y="1902" width="18" height="70" rx="7" fill="#d02000"/>
<rect x="343" y="1910" width="10" height="50" rx="5" fill="#800000"/>
<!-- B35 -->
<rect x="186" y="2014.6" width="82" height="12" rx="6" fill="#50ffb0"/>
<rect x="276" y="2009" width="66" height="24" rx="10" fill="#ffc020"/>
<circle cx="290" cy="2016" r="5.5" fill="#ff6000"/><circle cx="302" cy="2026" r="5.5" fill="#a0ff60"/>
<rect x="335" y="2014.6" width="225" height="12" rx="6" fill="url(#gC35)"/>
<rect x="262" y="1986" width="16" height="70" rx="7" fill="#0040e0"/>
<rect x="266" y="1995" width="8" height="50" rx="4" fill="#000090"/>
<rect x="314" y="1996" width="21" height="50" rx="8" fill="#a00000"/>
<circle cx="324" cy="2008" r="5" fill="#e00000"/>
<!-- B34 -->
<rect x="232" y="2098.4" width="130" height="12" rx="6" fill="#e8ff20"/>
<circle cx="249" cy="2104.4" r="5.5" fill="#40f0d0"/><circle cx="275" cy="2104.4" r="5.5" fill="#ff6000"/><circle cx="283" cy="2104.4" r="5.5" fill="#ff6000"/><circle cx="322" cy="2104.4" r="5.5" fill="#a0ff60"/>
<rect x="301" y="2069" width="12" height="71" rx="5" fill="#1070ff"/>
<circle cx="307" cy="2100" r="5" fill="#800000"/><circle cx="307" cy="2133" r="5" fill="#40e0ff"/>
</g>
<rect x="192" y="1518" width="1308" height="670.4" fill="none" stroke="#000" stroke-width="5"/>
<g stroke="#333" stroke-width="4.5">
<line x1="170" x2="192" y1="1601.6" y2="1601.6"/><line x1="170" x2="192" y1="1685.4" y2="1685.4"/><line x1="170" x2="192" y1="1769.2" y2="1769.2"/><line x1="170" x2="192" y1="1853" y2="1853"/><line x1="170" x2="192" y1="1936.8" y2="1936.8"/><line x1="170" x2="192" y1="2020.6" y2="2020.6"/><line x1="170" x2="192" y1="2104.4" y2="2104.4"/>
<line x1="310.9" x2="310.9" y1="2188" y2="2209"/><line x1="608.2" x2="608.2" y1="2188" y2="2209"/><line x1="905.4" x2="905.4" y1="2188" y2="2209"/><line x1="1202.7" x2="1202.7" y1="2188" y2="2209"/><line x1="1500" x2="1500" y1="2188" y2="2209"/>
</g>
<g fill="#333" font-size="73" text-anchor="end">
<text x="155" y="1631.1" textLength="124" lengthAdjust="spacingAndGlyphs">B32</text>
<text x="155" y="1714.9" textLength="124" lengthAdjust="spacingAndGlyphs">B33</text>
<text x="155" y="1798.7" textLength="124" lengthAdjust="spacingAndGlyphs">B30</text>
<text x="155" y="1882.5" textLength="124" lengthAdjust="spacingAndGlyphs">B29</text>
<text x="155" y="1966.3" textLength="124" lengthAdjust="spacingAndGlyphs">B31</text>
<text x="155" y="2050.1" textLength="124" lengthAdjust="spacingAndGlyphs">B35</text>
<text x="155" y="2133.9" textLength="124" lengthAdjust="spacingAndGlyphs">B34</text>
</g>
<g fill="#333" font-size="73" text-anchor="middle">
<text x="310.9" y="2279" textLength="103" lengthAdjust="spacingAndGlyphs">0.0</text>
<text x="608.2" y="2279" textLength="103" lengthAdjust="spacingAndGlyphs">0.1</text>
<text x="905.4" y="2279" textLength="103" lengthAdjust="spacingAndGlyphs">0.2</text>
<text x="1202.7" y="2279" textLength="103" lengthAdjust="spacingAndGlyphs">0.3</text>
<text x="1500" y="2279" textLength="103" lengthAdjust="spacingAndGlyphs">0.4</text>
</g>
<text x="1488" y="2162" font-size="78" fill="#000" text-anchor="end" textLength="627" lengthAdjust="spacingAndGlyphs">(c) Aqua(MODIS)</text>
</svg>
</body></html>
